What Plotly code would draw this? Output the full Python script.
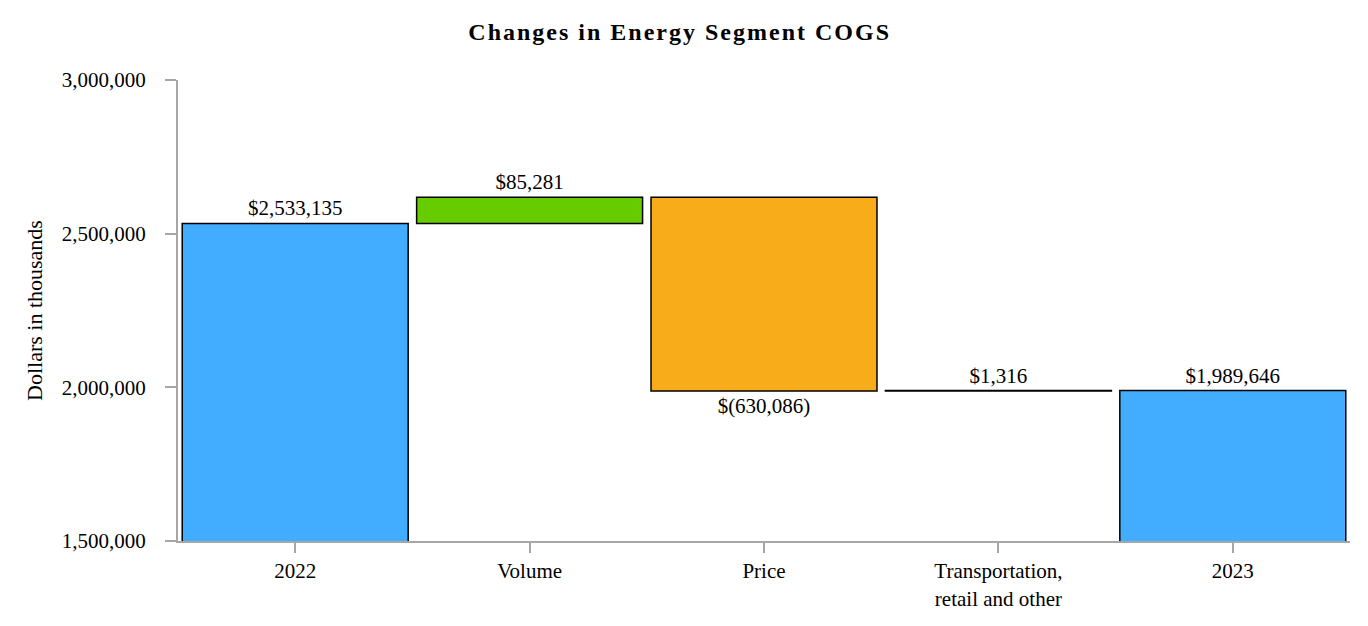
import plotly.graph_objects as go

categories = ["2022", "Volume", "Price", "Transportation,<br>retail and other", "2023"]
measures = ["absolute", "relative", "relative", "relative", "total"]
values = [2533135, 85281, -630086, 1316, 1989646]
y_ticks = [1500000, 2000000, 2500000, 3000000]


def fmt(v):
    return f"${v:,}" if v >= 0 else f"$({-v:,})"


labels = [fmt(v) for v in values]

FONT = "Liberation Serif"
BLUE = "#42ADFF"
GREEN = "#66CC00"
ORANGE = "#F8AC1A"
FS = 21

fig = go.Figure(go.Waterfall(
    x=categories,
    y=values,
    measure=measures,
    text=labels,
    textposition="outside",
    textfont=dict(family=FONT, size=FS, color="black"),
    connector=dict(visible=False),
    increasing=dict(marker=dict(color=GREEN, line=dict(color="black", width=1.5))),
    decreasing=dict(marker=dict(color=ORANGE, line=dict(color="black", width=1.5))),
    totals=dict(marker=dict(color=BLUE, line=dict(color="black", width=1.5))),
    cliponaxis=False,
    hoverinfo="skip",
))

fig.update_layout(
    width=1368, height=626,
    margin=dict(l=170, r=26, t=72, b=93),
    paper_bgcolor="white", plot_bgcolor="white",
    showlegend=False,
    waterfallgap=0.036,
    font=dict(family=FONT, size=FS, color="black"),
    title=dict(text="<b>Changes in Energy Segment COGS</b>", x=0.491, xref="container",
               xanchor="center", y=0.963, yanchor="middle",
               font=dict(family=FONT, size=24, color="black")),
)
fig.update_xaxes(
    showline=True, linecolor="#A6A6A6", linewidth=2,
    ticks="outside", ticklen=10, tickcolor="#A6A6A6", tickwidth=2,
    tickfont=dict(family=FONT, size=FS, color="black"),
    showgrid=False,
)
fig.update_yaxes(
    range=[1500000, 3000000],
    tickvals=y_ticks, tickformat=",",
    showline=True, linecolor="#A6A6A6", linewidth=2,
    ticks="outside", ticklen=11, tickcolor="#A6A6A6", tickwidth=2,
    ticklabelstandoff=15,
    tickfont=dict(family=FONT, size=FS, color="black"),
    showgrid=False, zeroline=False,
    title=dict(text="Dollars in thousands", font=dict(family=FONT, size=22, color="black"), standoff=13),
)

post = "document.querySelectorAll('.gtitle').forEach(function(t){t.style.letterSpacing='2px';});"
fig.write_html("out.html", post_script=post)
